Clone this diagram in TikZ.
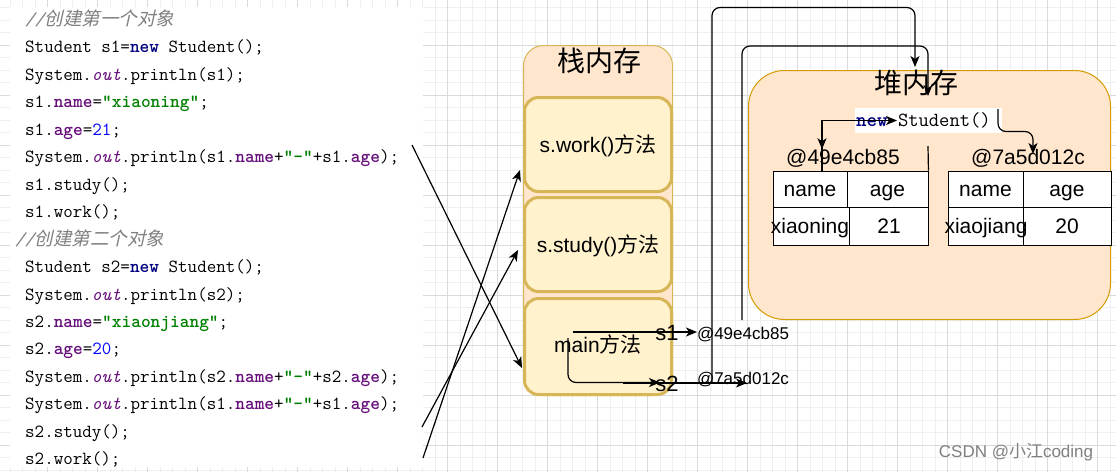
\documentclass[tikz,border=0pt]{standalone}
\usepackage{fontspec}
\usetikzlibrary{arrows.meta,calc}
\newfontfamily\arial{Liberation Sans}
\newfontfamily\cjk{Noto Sans CJK SC}
\newfontfamily\cjksl[FakeSlant=0.22]{Noto Sans CJK SC}
\definecolor{kwc}{HTML}{000080}
\definecolor{fld}{HTML}{660E7A}
\definecolor{strc}{HTML}{008000}
\definecolor{numc}{HTML}{0000FF}
\definecolor{cmt}{HTML}{808080}
\definecolor{stkfill}{HTML}{FFE6CC}
\definecolor{stkdraw}{HTML}{D6B656}
\definecolor{frmfill}{HTML}{FFF2CC}
\definecolor{heapdraw}{HTML}{D79B00}
\definecolor{gminc}{HTML}{EFEFEF}
\definecolor{gmajc}{HTML}{DADADA}
\newcommand{\jkw}[1]{{\color{kwc}\bfseries #1}}
\newcommand{\jfd}[1]{{\color{fld}\bfseries #1}}
\newcommand{\jout}{{\color{fld}\itshape out}}
\newcommand{\jstr}[1]{{\color{strc}\bfseries #1}}
\newcommand{\jnum}[1]{{\color{numc}#1}}
\newcommand{\jcmt}[1]{{\color{cmt}\itshape //}{\color{cmt}\cjksl #1}}
\begin{document}
\begin{tikzpicture}[x=1pt,y=-1pt,
  arr/.style={draw=black, line width=1.2pt, -{Stealth[length=11pt,width=9pt,inset=3pt]}},
  ln/.style={draw=black, line width=1.2pt},
  gmin/.style={draw=gminc, line width=0.8pt},
  gmaj/.style={draw=gmajc, line width=0.8pt},
  codeline/.style={anchor=base west, inner sep=0pt, font=\ttfamily\fontsize{18.5}{18}\selectfont},
  frm/.style={draw=stkdraw, fill=frmfill, line width=3pt, rounded corners=14pt, minimum width=147pt, inner sep=0pt},
  lbl/.style={inner sep=0pt, text height=15.1pt, text depth=0pt, font=\arial\fontsize{21}{21}\selectfont},
  big/.style={inner sep=0pt, text height=15.8pt, text depth=0pt, font=\arial\fontsize{22}{22}\selectfont},
  small/.style={inner sep=0pt, text height=12.2pt, text depth=0pt, font=\arial\fontsize{17}{17}\selectfont},
  cellbox/.style={draw=black, fill=white, line width=0.9pt, inner sep=0pt},
  title/.style={inner sep=0pt, font=\cjk\fontsize{28}{28}\selectfont},
]
\useasboundingbox (0,0) rectangle (1116,472);
\fill[white] (0,0) rectangle (1116,472);
% grid
\foreach \i in {0,...,88} {\draw[gmin] ({10+12.5*\i},0) -- ({10+12.5*\i},472);}
\foreach \j in {0,...,37} {\draw[gmin] (0,{7.5+12.5*\j}) -- (1116,{7.5+12.5*\j});}
\foreach \i in {0,...,21} {\draw[gmaj] ({47.5+50*\i},0) -- ({47.5+50*\i},472);}
\foreach \j in {0,...,9} {\draw[gmaj] (0,{45+50*\j}) -- (1116,{45+50*\j});}
% code area
\fill[white] (10,7) rectangle (422.5,467);
\def\pitch{27.45}
\node[codeline] (c1) at (25,{25.5+0*\pitch}) {\jcmt{创建第一个对象}};
\node[codeline] (c2) at (25,{25.5+1*\pitch}) {Student s1=\jkw{new} Student();};
\node[codeline] (c3) at (25,{25.5+2*\pitch}) {System.\jout.println(s1);};
\node[codeline] (c4) at (25,{25.5+3*\pitch}) {s1.\jfd{name}=\jstr{"xiaoning"};};
\node[codeline] (c5) at (25,{25.5+4*\pitch}) {s1.\jfd{age}=\jnum{21};};
\node[codeline] (c6) at (25,{25.5+5*\pitch}) {System.\jout.println(s1.\jfd{name}+\jstr{"-"}+s1.\jfd{age});};
\node[codeline] (c7) at (25,{25.5+6*\pitch}) {s1.study();};
\node[codeline] (c8) at (25,{25.5+7*\pitch}) {s1.work();};
\node[codeline] (c9) at (15,{25.5+8*\pitch}) {\jcmt{创建第二个对象}};
\node[codeline] (c10) at (25,{25.5+9*\pitch}) {Student s2=\jkw{new} Student();};
\node[codeline] (c11) at (25,{25.5+10*\pitch}) {System.\jout.println(s2);};
\node[codeline] (c12) at (25,{25.5+11*\pitch}) {s2.\jfd{name}=\jstr{"xiaonjiang"};};
\node[codeline] (c13) at (25,{25.5+12*\pitch}) {s2.\jfd{age}=\jnum{20};};
\node[codeline] (c14) at (25,{25.5+13*\pitch}) {System.\jout.println(s2.\jfd{name}+\jstr{"-"}+s2.\jfd{age});};
\node[codeline] (c15) at (25,{25.5+14*\pitch}) {System.\jout.println(s1.\jfd{name}+\jstr{"-"}+s1.\jfd{age});};
\node[codeline] (c16) at (25,{25.5+15*\pitch}) {s2.study();};
\node[codeline] (c17) at (25,{25.5+16*\pitch}) {s2.work();};
% stack
\node[draw=stkdraw, fill=stkfill, line width=1pt, rounded corners=20pt, minimum width=149pt, minimum height=350pt, inner sep=0pt] (stack) at (598,220.5) {};
\node[title] (stacktitle) at (599,61) {栈内存};
\node[frm, minimum height=94pt] (work) at (598,144.5) {};
\node[lbl] (worktxt) at (work) {s.work(){\cjk 方法}};
\node[frm, minimum height=94pt] (study) at (598,244.5) {};
\node[lbl] (studytxt) at (study) {s.study(){\cjk 方法}};
\node[frm, minimum height=96pt] (main) at (598,346.5) {};
\node[lbl] (maintxt) at (598,345) {main{\cjk 方法}};
% heap
\node[draw=heapdraw, fill=stkfill, line width=1pt, rounded corners=36pt, minimum width=362pt, minimum height=249pt, inner sep=0pt] (heap) at (929.5,195) {};
\node[title] (heaptitle) at (916,83) {堆内存};
\node[fill=white, inner sep=0pt, minimum width=147pt, minimum height=25pt] (newst) at (928.5,120.5) {};
\node[inner sep=0pt, font=\ttfamily\fontsize{20}{20}\selectfont, anchor=west] (newtxt) at (856,120.5) {\jkw{new} Student()};
% tables
\node[lbl] (addr1) at (843,157) {@49e4cb85};
\node[lbl] (addr2) at (1028,157) {@7a5d012c};
\node[cellbox, minimum width=74pt, minimum height=36pt] (L11) at (810,189) {};
\node[cellbox, minimum width=81pt, minimum height=36pt] (L12) at (887.5,189) {};
\node[cellbox, minimum width=76pt, minimum height=38pt] (L21) at (811,226) {};
\node[cellbox, minimum width=79pt, minimum height=38pt] (L22) at (888.5,226) {};
\node[cellbox, minimum width=75pt, minimum height=36pt] (R11) at (985.5,189) {};
\node[cellbox, minimum width=88pt, minimum height=36pt] (R12) at (1067,189) {};
\node[cellbox, minimum width=75pt, minimum height=38pt] (R21) at (985.5,226) {};
\node[cellbox, minimum width=88pt, minimum height=38pt] (R22) at (1067,226) {};
\node[lbl] (L11t) at (810,189) {name};
\node[lbl] (L12t) at (887.5,189) {age};
\node[lbl] (L21t) at (810,226) {xiaoning};
\node[lbl] (L22t) at (889,226) {21};
\node[lbl] (R11t) at (985.5,189) {name};
\node[lbl] (R12t) at (1067,189) {age};
\node[lbl] (R21t) at (986,226) {xiaojiang};
\node[lbl] (R22t) at (1067,226) {20};
% main labels
\node[big] (s1lab) at (667,333) {s1};
\node[big] (s2lab) at (667,384) {s2};
\node[small] (s1addr) at (743,333) {@49e4cb85};
\node[small] (s2addr) at (743,378) {@7a5d012c};
% coordinates
\coordinate (s1from) at (573,332);
\coordinate (s1to) at (697,332);
\coordinate (s2from) at (568,338);
\coordinate (s2to) at (660,382.5);
\coordinate (s2b) at (623,383);
\coordinate (s2c) at (747,383);
\coordinate (dstart) at (712,383);
\coordinate (dtop) at (712,7.5);
\coordinate (dtip) at (915,67);
\coordinate (estart) at (742,320);
\coordinate (etop) at (742,46);
\coordinate (etip) at (928,96);
\coordinate (vline) at (928,146);
\coordinate (ltop) at (822,171);
\coordinate (lcorner) at (822,120.5);
\coordinate (ntip) at (897,120.5);
\coordinate (ptop) at (998,109);
\coordinate (ptip) at (1033,154);
\coordinate (pmid) at (1015,131.5);
\coordinate (k1) at (412,145);
\coordinate (k2) at (422,427);
\coordinate (k3) at (423,458);
\coordinate (mainin) at (522,368);
\coordinate (studyin) at (518,250);
\coordinate (workin) at (520,170);
% connectors
\draw[arr] (k1) -- (mainin);
\draw[arr] (k2) -- (studyin);
\draw[arr] (k3) -- (workin);
\draw[arr] (s1from) -- (s1to);
\draw[arr, rounded corners=8pt] (s2from) |- (s2to);
\draw[arr] (s2b) -- (s2c);
\draw[arr, rounded corners=8pt] (dstart) -- (dtop) -| (dtip);
\draw[arr, rounded corners=8pt] (estart) -- (etop) -| (etip);
\draw[ln] (vline) -- (L12.north east);
\draw[arr] (ltop) |- (ntip);
\draw[arr] (lcorner) -- (addr1.north -| lcorner);
\draw[arr, rounded corners=8pt] (ptop) |- (pmid) -| (ptip);
% watermark
\node[inner sep=0pt, text=black!50, font=\arial\fontsize{17}{17}\selectfont] (wm) at (1016,452) {CSDN @{\cjk 小江}coding};
\end{tikzpicture}
\end{document}
